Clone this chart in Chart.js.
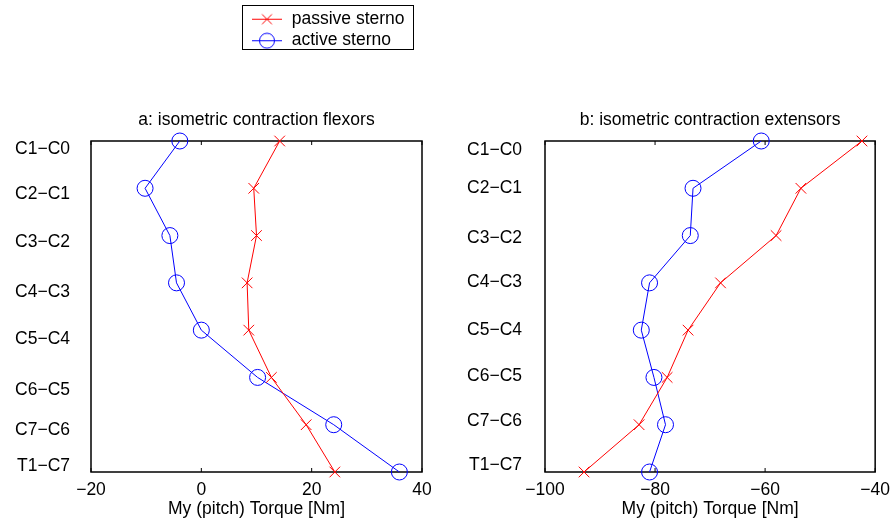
<!DOCTYPE html>
<html>
<head>
<meta charset="utf-8">
<script src="https://cdn.jsdelivr.net/npm/chart.js@4.4.1/dist/chart.umd.min.js"></script>
<style>
  html, body { margin: 0; padding: 0; background: #fff; }
  #fig { position: relative; width: 890px; height: 524px; overflow: hidden; }
  #panelA { position: absolute; left: 0; top: 0; }
  #panelB { position: absolute; left: 445px; top: 0; }
  #legendBox { position: absolute; left: 242px; top: 5px; width: 170px; height: 43px; border: 1px solid #000; background: #fff; }
  #legendBox canvas { display: block; }
</style>
</head>
<body>
<div id="fig">
  <canvas id="panelA" width="445" height="524"></canvas>
  <canvas id="panelB" width="445" height="524"></canvas>
  <div id="legendBox"><canvas id="legend" width="170" height="43"></canvas></div>
</div>
<script>
// vertebral levels, top to bottom
const levels = ['C1\u2212C0', 'C2\u2212C1', 'C3\u2212C2', 'C4\u2212C3', 'C5\u2212C4', 'C6\u2212C5', 'C7\u2212C6', 'T1\u2212C7']

// where the level labels sit on the level axis (1 = top, 8 = bottom)
const levelTicksA = [1.18, 2.12, 3.15, 4.19, 5.19, 6.26, 7.11, 7.87]
const levelTicksB = [1.19, 2.0, 3.06, 3.98, 5.01, 5.98, 6.93, 7.85]

// a: isometric contraction flexors
const passiveA = [14.2, 9.5, 10.0, 8.3, 8.6, 12.7, 19.0, 24.2]
const activeA = [-3.9, -10.2, -5.7, -4.5, 0.0, 10.2, 24.0, 35.9]

// b: isometric contraction extensors
const passiveB = [-42.4, -53.5, -58.0, -68.1, -74.0, -77.8, -82.9, -92.9]
const activeB = [-60.7, -73.1, -73.6, -81.0, -82.5, -80.2, -78.1, -81.0]

const xTicksA = [-20, 0, 20, 40]
const xTicksB = [-100, -80, -60, -40]

Chart.defaults.font.family = '"Liberation Sans", Arial, Helvetica, sans-serif'
Chart.defaults.font.size = 17.5
Chart.defaults.color = '#000'

const RED = 'rgb(255, 0, 0)'
const BLUE = 'rgb(0, 0, 255)'
const NONE = 'rgba(0, 0, 0, 0)'

function toPoints(values){
    return values.map((v, i) => ({ x: v, y: i + 1 }))
}

function seriesSet(label, values, color, style, radius){
    return {
        label: label,
        data: toPoints(values),
        borderColor: color,
        backgroundColor: NONE,
        borderWidth: 1,
        pointStyle: style,
        pointRadius: radius,
        pointBorderColor: color,
        pointBackgroundColor: NONE,
        pointBorderWidth: 1,
        tension: 0,
        clip: false
    }
}

// matlab style box with inward ticks
const boxPlugin = {
    id: 'matlabBox',
    beforeDatasetsDraw(chart){
        const ctx = chart.ctx
        const a = chart.chartArea
        const xs = chart.scales.x
        ctx.save()
        ctx.strokeStyle = '#000'
        ctx.lineWidth = 1.5
        ctx.strokeRect(a.left, a.top, a.right - a.left, a.bottom - a.top)
        ctx.lineWidth = 1
        ctx.beginPath()
        xs.ticks.forEach((t) => {
            let px = xs.getPixelForValue(t.value)
            ctx.moveTo(px, a.bottom)
            ctx.lineTo(px, a.bottom - 4)
            ctx.moveTo(px, a.top)
            ctx.lineTo(px, a.top + 4)
        })
        ctx.stroke()
        ctx.restore()
    }
}

function panelConfig(title, passive, active, xTicks, yTicks, yWidth, yPad, rightPad){
    let xMin = xTicks[0]
    let xMax = xTicks[xTicks.length - 1]
    return {
        type: 'line',
        data: {
            datasets: [
                seriesSet('passive sterno', passive, RED, 'crossRot', 7.5),
                seriesSet('active sterno', active, BLUE, 'circle', 8)
            ]
        },
        options: {
            responsive: false,
            animation: false,
            layout: { padding: { left: 0, right: rightPad, top: 0, bottom: 0 } },
            plugins: {
                legend: { display: false },
                tooltip: { enabled: false }
            },
            scales: {
                x: {
                    type: 'linear',
                    position: 'bottom',
                    min: xMin,
                    max: xMax,
                    afterBuildTicks: (s) => { s.ticks = xTicks.map((v) => ({ value: v })) },
                    afterFit: (s) => { s.height = 52 },
                    grid: { display: false, tickLength: 8 },
                    border: { display: false },
                    ticks: {
                        padding: 0,
                        maxRotation: 0,
                        callback: (v) => String(v).replace('-', '\u2212')
                    },
                    title: {
                        display: true,
                        text: 'My (pitch) Torque [Nm]',
                        padding: { top: 4, bottom: 4 }
                    }
                },
                xTop: {
                    type: 'linear',
                    axis: 'x',
                    position: 'top',
                    min: xMin,
                    max: xMax,
                    afterFit: (s) => { s.height = 141 },
                    grid: { display: false },
                    border: { display: false },
                    ticks: { display: false },
                    title: {
                        display: true,
                        text: title,
                        padding: { top: 110, bottom: 0 }
                    }
                },
                y: {
                    type: 'linear',
                    reverse: true,
                    min: 1,
                    max: 8,
                    afterBuildTicks: (s) => { s.ticks = yTicks.map((v) => ({ value: v })) },
                    afterFit: (s) => { s.width = yWidth },
                    grid: { display: false, tickLength: 8 },
                    border: { display: false },
                    ticks: {
                        padding: yPad,
                        autoSkip: false,
                        callback: (v, i) => levels[i]
                    }
                }
            }
        },
        plugins: [boxPlugin]
    }
}

function legendSymbol(color, style, radius){
    let c = document.createElement('canvas')
    c.width = 32
    c.height = 18
    let g = c.getContext('2d')
    g.strokeStyle = color
    g.fillStyle = NONE
    g.lineWidth = 1
    g.beginPath()
    g.moveTo(1, 9.5)
    g.lineTo(31, 9.5)
    g.stroke()
    Chart.helpers.drawPoint(g, { pointStyle: style, radius: radius, borderWidth: 1, rotation: 0 }, 16, 9.5)
    return c
}

new Chart(document.getElementById('panelA'),
    panelConfig('a: isometric contraction flexors', passiveA, activeA, xTicksA, levelTicksA, 91, 13, 23))

new Chart(document.getElementById('panelB'),
    panelConfig('b: isometric contraction extensors', passiveB, activeB, xTicksB, levelTicksB, 100, 15, 14))

new Chart(document.getElementById('legend'), {
    type: 'line',
    data: {
        datasets: [
            { label: 'passive sterno', data: [], borderColor: RED, pointStyle: legendSymbol(RED, 'crossRot', 7) },
            { label: 'active sterno', data: [], borderColor: BLUE, pointStyle: legendSymbol(BLUE, 'circle', 7.5) }
        ]
    },
    options: {
        responsive: false,
        animation: false,
        layout: { padding: { left: 4, right: 0, top: 0, bottom: 0 } },
        scales: {
            x: { display: false },
            y: { display: false }
        },
        plugins: {
            tooltip: { enabled: false },
            legend: {
                position: 'top',
                align: 'start',
                maxHeight: 43,
                labels: {
                    usePointStyle: true,
                    pointStyleWidth: 32,
                    padding: 4,
                    color: '#000',
                    font: { size: 17.5 }
                }
            }
        }
    }
})
</script>
</body>
</html>
